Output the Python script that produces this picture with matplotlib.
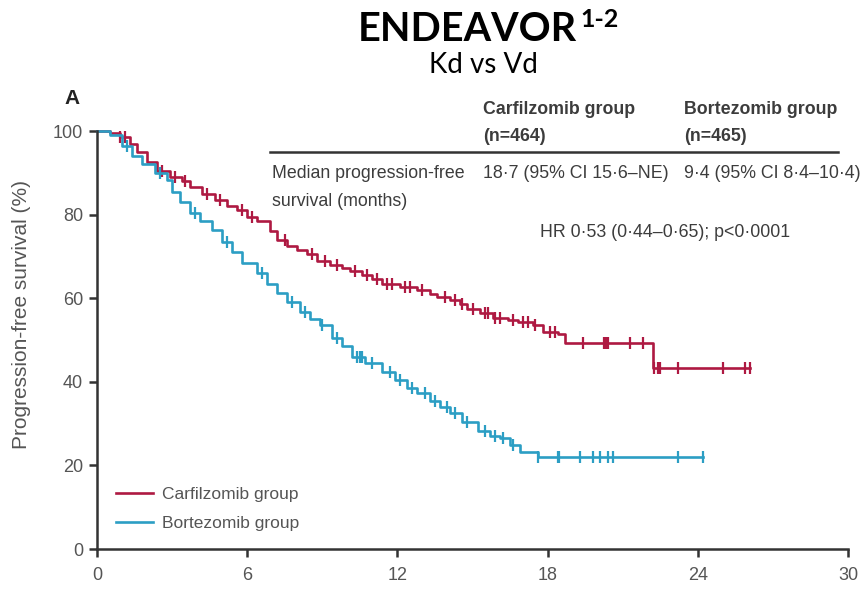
import numpy as np
import matplotlib.pyplot as plt

# Kaplan-Meier step points (months, % progression-free)
carf_t = [0, 0.5, 0.9, 1.3, 1.6, 2.0, 2.4, 2.9, 3.4, 3.7, 4.2, 4.7, 5.2, 5.6, 6.0,
          6.4, 6.9, 7.2, 7.6, 8.0, 8.4, 8.8, 9.3, 9.8, 10.1, 10.6, 11.0, 11.4, 12.1,
          12.8, 13.3, 13.6, 14.1, 14.5, 14.8, 15.3, 15.8, 16.4, 16.8, 17.4, 17.8,
          18.4, 18.7, 22.2, 26.1]
carf_s = [100, 99.5, 98.5, 97, 95, 92.5, 90.5, 89, 88, 86.5, 85, 83.5, 82, 81, 79.5,
          78.5, 76, 74, 72.5, 71.5, 70.5, 69, 68, 67.2, 66.5, 65.5, 64.5, 63.5, 62.7,
          62, 61, 60.3, 59.5, 58.5, 57.5, 56.5, 55.3, 54.8, 54.2, 53.5, 52,
          51.5, 49.3, 43.3, 43.3]

bort_t = [0, 0.5, 1.0, 1.4, 1.8, 2.3, 2.8, 3.0, 3.3, 3.7, 4.1, 4.6, 5.0, 5.4, 5.8,
          6.4, 6.8, 7.2, 7.6, 8.1, 8.5, 8.9, 9.4, 9.8, 10.2, 10.7, 11.4, 11.9, 12.4,
          12.8, 13.3, 13.7, 14.1, 14.6, 15.2, 15.7, 16.1, 16.5, 16.9, 17.6, 24.2]
bort_s = [100, 99, 96.5, 94, 92, 90, 88.3, 85.5, 83, 80.5, 78.5, 76.3, 73.5, 71, 68.5,
          66, 63.5, 61.3, 59, 56.8, 55, 53.5, 50.5, 48.5, 46, 44.5, 42.3, 40.5, 38.5,
          37.3, 35.5, 34, 32.5, 30.5, 28.3, 27, 26.5, 25, 23.2, 22, 22]

# censoring times
carf_cens = [0.9, 1.1, 2.6, 3.1, 3.5, 4.4, 4.9, 5.8, 6.2, 7.5, 8.6, 9.1, 9.6, 10.3,
             10.8, 11.2, 11.6, 11.8, 12.3, 12.5, 13.0, 13.9, 14.3, 14.6, 15.0, 15.5,
             15.6, 15.9, 16.1, 16.6, 17.0, 17.2, 17.5, 18.1, 18.3, 19.4, 20.25, 20.3,
             20.35, 20.4, 21.3, 21.8, 22.25, 22.4, 22.5, 23.2, 25.0, 25.9, 26.1]
bort_cens = [1.2, 2.5, 3.9, 5.2, 6.6, 7.8, 8.3, 9.0, 9.6, 10.4, 10.5, 10.6, 11.0, 11.7,
             12.1, 12.6, 13.1, 13.5, 14.0, 14.3, 14.8, 15.5, 15.9, 16.2, 16.6, 17.6,
             18.4, 18.45, 19.3, 19.8, 20.1, 20.4, 20.6, 23.2, 24.2]

groups = ["Carfilzomib group", "Bortezomib group"]
RED = "#AE1942"
BLUE = "#2C9EC4"
TXT = "#3c3c3c"
FONT = ["Liberation Sans", "DejaVu Sans"]

W, H = 861, 592


def fx(px):
    return px / W


def fy(py):
    return 1 - py / H


def step_value(ts, ss, t):
    i = np.searchsorted(ts, t, side="right") - 1
    return np.asarray(ss)[i]


fig = plt.figure(figsize=(W / 100, H / 100), dpi=100)
ax = fig.add_axes([fx(97), fy(549), (848 - 97) / W, (549 - 131) / H])

for ts, ss, cens, col, lab in [(carf_t, carf_s, carf_cens, RED, groups[0]),
                               (bort_t, bort_s, bort_cens, BLUE, groups[1])]:
    ax.plot(ts, ss, drawstyle="steps-post", color=col, lw=1.9, label=lab, clip_on=False)
    cy = step_value(ts, ss, cens)
    ax.plot(cens, cy, ls="none", marker="|", ms=8, mew=1.6, color=col, clip_on=False)

ax.set_xlim(0, 30)
ax.set_ylim(0, 100)
ax.set_xticks([0, 6, 12, 18, 24, 30])
ax.set_yticks([0, 20, 40, 60, 80, 100])
for s in ["top", "right"]:
    ax.spines[s].set_visible(False)
for s in ["left", "bottom"]:
    ax.spines[s].set_color("#333333")
    ax.spines[s].set_linewidth(1.8)
ax.tick_params(direction="out", length=6, width=1.8, color="#333333",
               labelsize=13, labelcolor="#555555", pad=4)
ax.tick_params(axis="x", pad=7)
for lbl in ax.get_xticklabels() + ax.get_yticklabels():
    lbl.set_family(FONT)
ax.set_ylabel("Progression-free survival (%)", family=FONT, fontsize=15, color="#555555")
ax.yaxis.set_label_coords(-0.088, 0.56)

leg = ax.legend(loc="lower left", bbox_to_anchor=(0.005, 0.005), frameon=False,
                handlelength=2.1, handletextpad=0.55, labelspacing=0.8,
                prop={"family": FONT, "size": 12.5})
for t in leg.get_texts():
    t.set_color("#555555")

# title
fig.text(fx(577), fy(41), "ENDEAVOR", ha="right", va="baseline", family="Lato",
         weight="bold", fontsize=28.5, color="black")
fig.text(fx(580), fy(27), "1-2", ha="left", va="baseline", family="Lato",
         weight="bold", fontsize=18, color="black")
fig.text(fx(483), fy(73), "Kd vs Vd", ha="center", va="baseline", family="Lato",
         fontsize=20, color="black")
fig.text(fx(64), fy(104), "A", ha="left", va="baseline", family=FONT,
         weight="bold", fontsize=15, color="#222222")

# summary table
tk = dict(family=FONT, fontsize=12.8, color=TXT, va="baseline", ha="left")
fig.text(fx(483), fy(114), "Carfilzomib group", weight="bold", **tk)
fig.text(fx(483), fy(141), "(n=464)", weight="bold", **tk)
fig.text(fx(684), fy(114), "Bortezomib group", weight="bold", **tk)
fig.text(fx(684), fy(141), "(n=465)", weight="bold", **tk)
fig.add_artist(plt.Line2D([fx(270), fx(838)], [fy(152), fy(152)], color="#333333", lw=1.8))
fig.text(fx(272), fy(178), "Median progression-free", **tk)
fig.text(fx(272), fy(206), "survival (months)", **tk)
fig.text(fx(483), fy(178), "18·7 (95% CI 15·6–NE)", **tk)
fig.text(fx(684), fy(178), "9·4 (95% CI 8·4–10·4)", **tk)
fig.text(fx(540), fy(237), "HR 0·53 (0·44–0·65); p<0·0001", **tk)

fig.savefig("out.png", dpi=100)
